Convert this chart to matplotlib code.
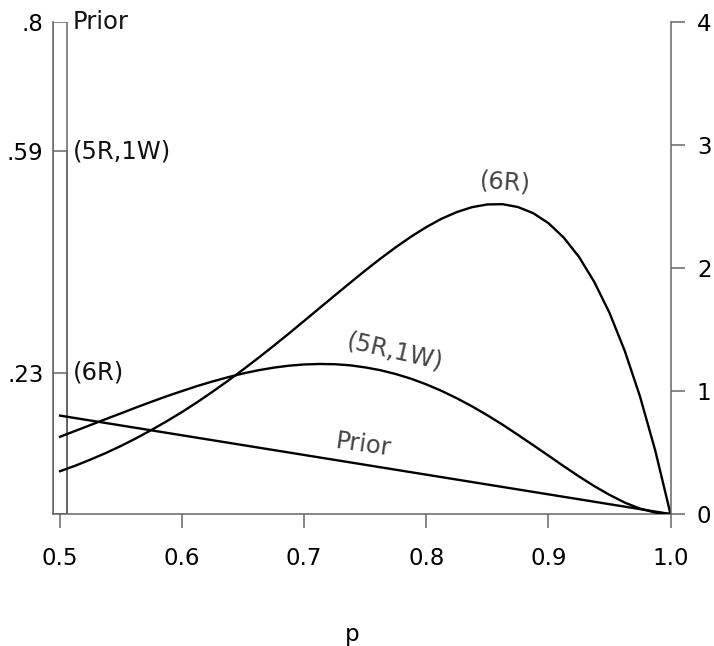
import matplotlib
matplotlib.use("Agg")
import matplotlib.pyplot as plt

# point masses at p = 0.5 (left axis)
mass_labels = ["Prior", "(5R,1W)", "(6R)"]
mass_values = [0.8, 0.59, 0.23]
mass_ticklabels = [".8", ".59", ".23"]

# densities on (0.5, 1] (right axis)
p = [0.5, 0.5125, 0.525, 0.5375, 0.55, 0.5625, 0.575, 0.5875, 0.6, 0.6125,
     0.625, 0.6375, 0.65, 0.6625, 0.675, 0.6875, 0.7, 0.7125, 0.725, 0.7375,
     0.75, 0.7625, 0.775, 0.7875, 0.8, 0.8125, 0.825, 0.8375, 0.85, 0.8625,
     0.875, 0.8875, 0.9, 0.9125, 0.925, 0.9375, 0.95, 0.9625, 0.975, 0.9875, 1.0]
dens_6r = [0.348, 0.393, 0.443, 0.496, 0.554, 0.617, 0.684, 0.755, 0.830, 0.910,
           0.995, 1.083, 1.175, 1.270, 1.368, 1.468, 1.571, 1.674, 1.777, 1.879,
           1.980, 2.077, 2.169, 2.255, 2.333, 2.401, 2.455, 2.495, 2.517, 2.519,
           2.496, 2.446, 2.365, 2.248, 2.091, 1.888, 1.636, 1.327, 0.956, 0.516, 0.0]
dens_5r1w = [0.628, 0.676, 0.724, 0.772, 0.819, 0.867, 0.913, 0.958, 1.000, 1.041,
             1.078, 1.112, 1.143, 1.169, 1.190, 1.206, 1.216, 1.220, 1.218, 1.209,
             1.192, 1.169, 1.138, 1.100, 1.054, 1.001, 0.941, 0.875, 0.803, 0.726,
             0.644, 0.560, 0.475, 0.389, 0.306, 0.227, 0.156, 0.093, 0.044, 0.012, 0.0]
prior_p = [0.5, 1.0]
dens_prior = [0.8, 0.0]

x_ticks = [0.5, 0.6, 0.7, 0.8, 0.9, 1.0]
right_ticks = [0, 1, 2, 3, 4]

gray = "#666666"
fs_tick = 16.5
fs_lab = 17.5

fig = plt.figure(figsize=(7.14, 6.46), dpi=100)
ax = fig.add_axes([0.0747, 0.2043, 0.8644, 0.7616])
ax2 = ax.twinx()

# point-mass bars
ax.bar([0.5] * len(mass_values), mass_values, width=0.011, fill=False,
       edgecolor=gray, linewidth=1.1)
for lab, v in zip(mass_labels, mass_values):
    ax.text(0.5107, v, lab, fontsize=fs_lab, va="center", ha="left", color="#111111")

ax.set_xlim(0.4945, 1.0)
ax.set_ylim(0, 0.8)
ax.set_yticks(mass_values)
ax.set_yticklabels(mass_ticklabels)
ax.tick_params(axis="y", length=0, pad=7, labelsize=fs_tick)
ax.set_xticks(x_ticks)
ax.set_xticklabels([f"{v:.1f}" for v in x_ticks])
ax.tick_params(axis="x", direction="out", length=10, width=1.1, color=gray,
               pad=14, labelsize=fs_tick)
for s in ["top", "right"]:
    ax.spines[s].set_visible(False)
for s in ["left", "bottom"]:
    ax.spines[s].set_color(gray)
    ax.spines[s].set_linewidth(1.1)

# densities
ax2.plot(p, dens_6r, color="black", linewidth=1.7)
ax2.plot(p, dens_5r1w, color="black", linewidth=1.7)
ax2.plot(prior_p, dens_prior, color="black", linewidth=1.7)
ax2.set_ylim(0, 4)
ax2.set_yticks(right_ticks)
ax2.tick_params(axis="y", direction="out", length=10, width=1.1, color=gray,
                pad=9, labelsize=fs_tick)
for s in ["top", "left", "bottom"]:
    ax2.spines[s].set_visible(False)
ax2.spines["right"].set_color(gray)
ax2.spines["right"].set_linewidth(1.1)

lab_kw = dict(fontsize=fs_lab, color="#444444", ha="center", va="center",
              rotation_mode="anchor")
ax2.text(0.8645, 2.70, "(6R)", rotation=-4, **lab_kw)
ax2.text(0.7744, 1.316, "(5R,1W)", rotation=-13, **lab_kw)
ax2.text(0.748, 0.56, "Prior", rotation=-8, **lab_kw)

fig.text(352 / 714, 1 - 641 / 646, "p", fontsize=fs_tick, ha="center", va="baseline")

fig.savefig("out.png", dpi=100)
